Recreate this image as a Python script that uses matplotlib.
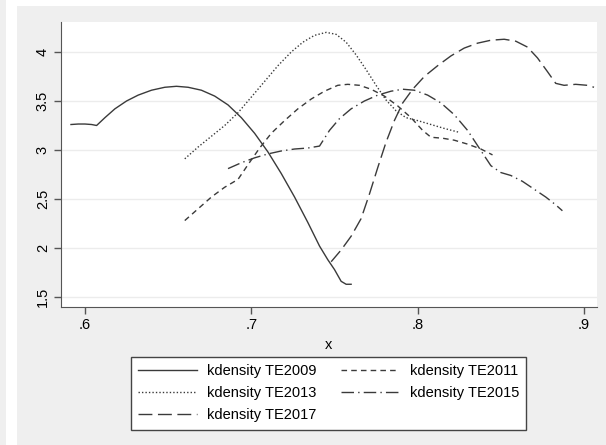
import matplotlib
matplotlib.use("Agg")
import matplotlib.pyplot as plt
from matplotlib.patches import Rectangle

# values
x2009 = [0.5916, 0.596, 0.600, 0.604, 0.607, 0.612, 0.618, 0.625, 0.632, 0.640, 0.648, 0.655,
         0.662, 0.670, 0.678, 0.686, 0.694, 0.702, 0.710, 0.718, 0.726, 0.734, 0.741, 0.746,
         0.750, 0.754, 0.757, 0.760]
y2009 = [3.26, 3.265, 3.265, 3.26, 3.25, 3.33, 3.42, 3.50, 3.56, 3.61, 3.64, 3.65,
         3.64, 3.61, 3.55, 3.46, 3.33, 3.17, 2.98, 2.76, 2.52, 2.26, 2.02, 1.88,
         1.78, 1.66, 1.63, 1.63]

x2011 = [0.660, 0.668, 0.676, 0.684, 0.692, 0.698, 0.705, 0.712, 0.720, 0.728, 0.736, 0.744,
         0.752, 0.758, 0.765, 0.772, 0.780, 0.788, 0.796, 0.803, 0.808, 0.815, 0.822, 0.830,
         0.838, 0.845]
y2011 = [2.28, 2.40, 2.52, 2.62, 2.70, 2.85, 3.02, 3.17, 3.30, 3.42, 3.52, 3.60,
         3.66, 3.67, 3.66, 3.62, 3.55, 3.45, 3.33, 3.20, 3.13, 3.12, 3.10, 3.06,
         3.01, 2.95]

x2013 = [0.660, 0.668, 0.676, 0.684, 0.692, 0.700, 0.708, 0.716, 0.724, 0.731, 0.738, 0.745,
         0.751, 0.757, 0.763, 0.769, 0.775, 0.781, 0.787, 0.793, 0.800, 0.808, 0.816, 0.825]
y2013 = [2.91, 3.03, 3.14, 3.25, 3.38, 3.54, 3.70, 3.86, 4.00, 4.10, 4.17, 4.20,
         4.18, 4.10, 3.97, 3.82, 3.66, 3.51, 3.40, 3.33, 3.30, 3.26, 3.22, 3.18]

x2015 = [0.686, 0.694, 0.702, 0.710, 0.718, 0.726, 0.734, 0.741, 0.747, 0.753, 0.760, 0.768,
         0.776, 0.784, 0.791, 0.798, 0.806, 0.814, 0.822, 0.830, 0.837, 0.844, 0.850, 0.856,
         0.863, 0.870, 0.877, 0.883, 0.887]
y2015 = [2.81, 2.87, 2.92, 2.96, 2.99, 3.01, 3.02, 3.04, 3.20, 3.32, 3.42, 3.50,
         3.56, 3.60, 3.62, 3.61, 3.56, 3.48, 3.36, 3.20, 3.02, 2.84, 2.77, 2.74,
         2.68, 2.60, 2.52, 2.44, 2.38]

x2017 = [0.748, 0.754, 0.760, 0.766, 0.771, 0.776, 0.781, 0.786, 0.791, 0.797, 0.804, 0.812,
         0.820, 0.828, 0.836, 0.844, 0.852, 0.859, 0.866, 0.872, 0.878, 0.883, 0.888, 0.895,
         0.902, 0.906]
y2017 = [1.86, 1.98, 2.12, 2.30, 2.55, 2.82, 3.08, 3.30, 3.48, 3.62, 3.75, 3.86,
         3.96, 4.04, 4.09, 4.12, 4.13, 4.11, 4.05, 3.94, 3.80, 3.68, 3.66, 3.67,
         3.66, 3.64]

labels = ["kdensity TE2009", "kdensity TE2011", "kdensity TE2013",
          "kdensity TE2015", "kdensity TE2017"]

plt.rcParams['font.family'] = ['Liberation Sans', 'DejaVu Sans']

fig = plt.figure(figsize=(6.06, 4.45), dpi=100)
fig.patch.set_facecolor('#efefef')
# screenshot frame strips
fig.patches.append(Rectangle((6/606, 0), 11/606, 1, transform=fig.transFigure,
                             facecolor='white', edgecolor='none', zorder=-5))
fig.patches.append(Rectangle((17/606, 1 - 6/445), 589/606, 6/445, transform=fig.transFigure,
                             facecolor='white', edgecolor='none', zorder=-5))

ax = fig.add_axes([61/606, 1 - 307/445, 536/606, 285/445])
ax.set_facecolor('white')

lc = '#3a3a3a'
l09, = ax.plot(x2009, y2009, color=lc, lw=1.0, ls='-')
l11, = ax.plot(x2011, y2011, color=lc, lw=1.0, ls=(0, (4, 3)))
l13, = ax.plot(x2013, y2013, color=lc, lw=1.0, ls=(0, (1, 1.5)))
l15, = ax.plot(x2015, y2015, color=lc, lw=1.0, ls=(0, (9, 3, 1, 3)))
l17, = ax.plot(x2017, y2017, color=lc, lw=1.0, ls=(0, (10, 4)))

ax.set_xlim(0.5856, 0.9078)
ax.set_ylim(1.398, 4.306)
ax.set_xticks([0.6, 0.7, 0.8, 0.9])
ax.set_xticklabels(['.6', '.7', '.8', '.9'])
ax.set_yticks([1.5, 2, 2.5, 3, 3.5, 4])
ax.set_yticklabels(['1.5', '2', '2.5', '3', '3.5', '4'], rotation=90, va='center')
ax.tick_params(labelsize=10.5, color='#555555', length=5, width=1, pad=3)
ax.grid(axis='y', color='#ececec', lw=1)
ax.set_axisbelow(True)
for s in ['top', 'right']:
    ax.spines[s].set_visible(False)
for s in ['left', 'bottom']:
    ax.spines[s].set_color('#555555')
ax.set_xlabel('x', fontsize=10.5, labelpad=4)

# matplotlib fills legend columns first; order so rows read 2009/2011, 2013/2015, 2017
handles = [l09, l13, l17, l11, l15]
names = [labels[0], labels[2], labels[4], labels[1], labels[3]]
leg = fig.legend(handles, names, loc='upper left', bbox_to_anchor=(131/606, 1 - 357/445),
                 ncol=2, fontsize=10.5, frameon=True, fancybox=False,
                 edgecolor='#444444', facecolor='white', framealpha=1,
                 handlelength=4.0, handletextpad=0.7, columnspacing=1.7,
                 labelspacing=0.55, borderpad=0.5, borderaxespad=0)
leg.get_frame().set_linewidth(1.0)

fig.savefig('out.png', dpi=100, facecolor=fig.get_facecolor())
